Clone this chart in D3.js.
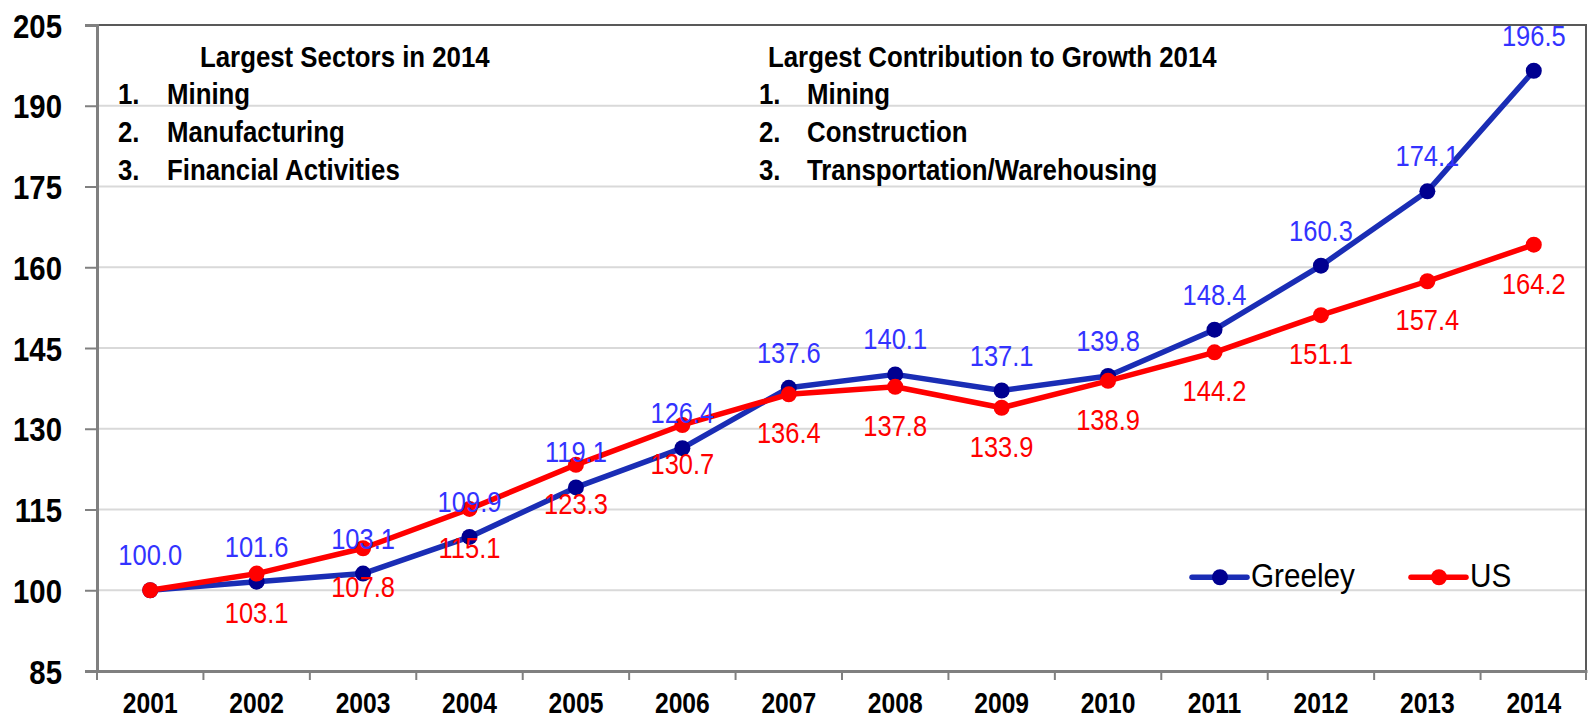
<!DOCTYPE html>
<html>
<head>
<meta charset="utf-8">
<script src="https://cdn.jsdelivr.net/npm/d3@7"></script>
<style>
  body { margin: 0; background: #fff; }
  svg text { font-family: "Liberation Sans", Arial, sans-serif; }
</style>
</head>
<body>
<div id="chart"></div>
<script>
// data
var years = ["2001", "2002", "2003", "2004", "2005", "2006", "2007", "2008", "2009", "2010", "2011", "2012", "2013", "2014"]
var greeley = [100.0, 101.6, 103.1, 109.9, 119.1, 126.4, 137.6, 140.1, 137.1, 139.8, 148.4, 160.3, 174.1, 196.5]
var us = [100.0, 103.1, 107.8, 115.1, 123.3, 130.7, 136.4, 137.8, 133.9, 138.9, 144.2, 151.1, 157.4, 164.2]
var yTicks = [85, 100, 115, 130, 145, 160, 175, 190, 205]
var sectorsTitle = "Largest Sectors in 2014"
var sectors = ["Mining", "Manufacturing", "Financial Activities"]
var growthTitle = "Largest Contribution to Growth 2014"
var growth = ["Mining", "Construction", "Transportation/Warehousing"]

var W = 1589, H = 718
var margin = { top: 25, right: 2, bottom: 47, left: 97 }
var width = W - margin.left - margin.right
var height = H - margin.top - margin.bottom

var svg = d3.select("#chart").append("svg")
  .attr("width", W).attr("height", H)
  .append("g")
  .attr("transform", "translate(" + margin.left + "," + margin.top + ")")

var x = d3.scaleBand().domain(years).range([0, width])
var y = d3.scaleLinear().domain([85, 205]).range([height, 0])
var cx = function (i) { return x(years[i]) + x.bandwidth() / 2 }

// squeeze text horizontally (narrow face look)
function narrow(sel, k) {
  sel.each(function () {
    var t = d3.select(this)
    var tx = +t.attr("x") || 0, ty = +t.attr("y") || 0
    t.attr("x", 0).attr("y", 0)
      .attr("transform", "translate(" + tx + "," + ty + ") scale(" + k + ",1)")
  })
}

// gridlines
svg.selectAll(".grid").data(yTicks.slice(1, -1)).enter()
  .append("line")
  .attr("x1", 0).attr("x2", width)
  .attr("y1", function (d) { return y(d) }).attr("y2", function (d) { return y(d) })
  .attr("stroke", "#d9d9d9").attr("stroke-width", 2)

// border top/right
svg.append("path")
  .attr("d", "M0," + y(205) + "H" + (width - 1) + "V" + height)
  .attr("fill", "none").attr("stroke", "#595959").attr("stroke-width", 2)

// y axis
var yAxis = svg.append("g")
  .call(d3.axisLeft(y).tickValues(yTicks).tickSize(12).tickPadding(0))
yAxis.select(".domain").attr("stroke", "#808080").attr("stroke-width", 3)
yAxis.selectAll(".tick line").attr("stroke", "#808080").attr("stroke-width", 2)
yAxis.selectAll("text")
  .attr("x", -35).attr("y", 12).attr("dy", null)
  .attr("font-size", 33).attr("font-weight", "bold").attr("fill", "#000")
  .style("font-family", '"Liberation Sans", Arial, sans-serif')
  .call(narrow, 0.89)

// x axis
var xAxis = svg.append("g")
  .attr("transform", "translate(0," + height + ")")
  .call(d3.axisBottom(x).tickSize(0))
xAxis.select(".domain").attr("stroke", "#808080").attr("stroke-width", 3)
xAxis.selectAll("text")
  .attr("y", 42).attr("dy", null)
  .attr("font-size", 29).attr("font-weight", "bold").attr("fill", "#000")
  .style("font-family", '"Liberation Sans", Arial, sans-serif')
  .call(narrow, 0.85)
svg.selectAll(".xtick").data(d3.range(years.length + 1)).enter()
  .append("line")
  .attr("x1", function (i) { return Math.min(i * x.step(), width - 1) })
  .attr("x2", function (i) { return Math.min(i * x.step(), width - 1) })
  .attr("y1", height).attr("y2", height + 9)
  .attr("stroke", "#808080").attr("stroke-width", 2)

// annotations
function block(pos, title, items) {
  var g = svg.append("g").attr("font-weight", "bold").attr("font-size", 29).attr("fill", "#000")
  g.append("text").attr("x", pos.title).attr("y", 42).text(title)
  items.forEach(function (t, i) {
    g.append("text").attr("x", pos.num).attr("y", 79 + i * 38).text((i + 1) + ".")
    g.append("text").attr("x", pos.item).attr("y", 79 + i * 38).text(t)
  })
  g.selectAll("text").call(narrow, 0.89)
}
block({ title: 103, num: 21, item: 70 }, sectorsTitle, sectors)
block({ title: 671, num: 662, item: 710 }, growthTitle, growth)

// lines
var series = [
  { name: "Greeley", values: greeley, line: "#1a2db5", dot: "#000090", label: "#3333ff", dy: -25 },
  { name: "US", values: us, line: "#ff0000", dot: "#ff0000", label: "#ff0000", dy: 49 }
]
var line = d3.line().x(function (d, i) { return cx(i) }).y(function (d) { return y(d) })

series.forEach(function (s) {
  svg.append("path").datum(s.values)
    .attr("d", line).attr("fill", "none")
    .attr("stroke", s.line).attr("stroke-width", 5.5).attr("stroke-linejoin", "round")
  svg.selectAll(".dot-" + s.name).data(s.values).enter()
    .append("circle")
    .attr("cx", function (d, i) { return cx(i) }).attr("cy", function (d) { return y(d) })
    .attr("r", 8).attr("fill", s.dot)
})

// data labels (no US label at the 2001 base point)
series.forEach(function (s) {
  var pts = s.values.map(function (v, i) { return { v: v, i: i } })
    .filter(function (p) { return !(s.name === "US" && p.i === 0) })
  svg.selectAll(".lab-" + s.name).data(pts).enter()
    .append("text")
    .attr("x", function (p) { return cx(p.i) }).attr("y", function (p) { return y(p.v) + s.dy })
    .attr("text-anchor", "middle").attr("font-size", 30).attr("fill", s.label)
    .text(function (p) { return p.v.toFixed(1) })
    .call(narrow, 0.85)
})

// legend
var legendX = [1095, 1314]
var legend = svg.selectAll(".legend").data(series).enter()
  .append("g")
  .attr("transform", function (d, i) { return "translate(" + legendX[i] + "," + (y(100) - 13) + ")" })
legend.append("line").attr("x1", 0).attr("x2", 55)
  .attr("stroke", function (d) { return d.line }).attr("stroke-width", 5.5).attr("stroke-linecap", "round")
legend.append("circle").attr("cx", 28).attr("r", 8).attr("fill", function (d) { return d.dot })
legend.append("text").attr("x", 59).attr("y", 10).attr("font-size", 33).attr("fill", "#000")
  .text(function (d) { return d.name })
  .call(narrow, 0.9)
</script>
</body>
</html>
